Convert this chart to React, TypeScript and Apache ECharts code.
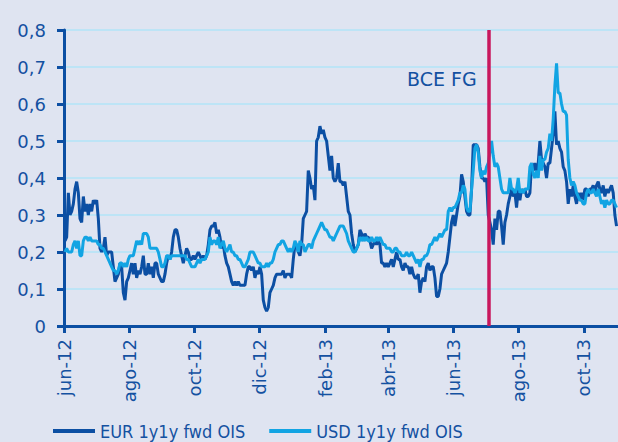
import { useEffect, useRef } from "react";
import * as echarts from "echarts";

// ---- Data ----
const START = Date.UTC(2012, 5, 1);
const DAY_MS = 86400000;
const dayOf = (y: number, m: number, d: number) => (Date.UTC(y, m, d) - START) / DAY_MS;

const TICK_LABELS = ["jun-12", "ago-12", "oct-12", "dic-12", "feb-13", "abr-13", "jun-13", "ago-13", "oct-13"];
const TICK_MONTHS: [number, number][] = [
  [2012, 5], [2012, 7], [2012, 9], [2012, 11], [2013, 1], [2013, 3], [2013, 5], [2013, 7], [2013, 9],
];
const EVENT_LABEL = "BCE FG";
const EVENT_DATE: [number, number, number] = [2013, 6, 4];
const END_DATE: [number, number, number] = [2013, 10, 2];

const FIRST_DAY = 0.94;
const STEP_DAYS = 1.561;

const Y_TICKS = [0, 0.1, 0.2, 0.3, 0.4, 0.5, 0.6, 0.7, 0.8];

const EUR_A = [
  0.23, 0.24, 0.36, 0.30, 0.31, 0.33, 0.37, 0.39, 0.36, 0.29,
  0.28, 0.35, 0.31, 0.33, 0.30, 0.33, 0.31, 0.34, 0.33, 0.34,
  0.29, 0.21, 0.20, 0.21, 0.24, 0.19, 0.20, 0.20, 0.20, 0.16,
  0.12, 0.13, 0.14, 0.17, 0.16, 0.09, 0.07, 0.12, 0.13, 0.15,
  0.17, 0.14, 0.17, 0.13, 0.15, 0.14, 0.16, 0.19, 0.14, 0.14,
  0.17, 0.14, 0.16, 0.13, 0.17, 0.17, 0.14, 0.13, 0.12, 0.12,
  0.14, 0.17, 0.19, 0.18, 0.20, 0.24, 0.26, 0.26, 0.24, 0.21,
  0.19, 0.17, 0.19, 0.21, 0.20, 0.18, 0.18, 0.19, 0.18, 0.19,
  0.20, 0.19, 0.18, 0.19, 0.18, 0.19, 0.22, 0.26, 0.27, 0.27,
  0.28, 0.25, 0.26, 0.24, 0.21, 0.22, 0.19, 0.17, 0.16, 0.14,
  0.12, 0.11, 0.12, 0.11, 0.12, 0.11, 0.11, 0.11, 0.11, 0.14,
  0.16, 0.16, 0.15, 0.16, 0.13, 0.15, 0.14, 0.16, 0.14, 0.07,
  0.05, 0.04, 0.05, 0.09, 0.10, 0.11, 0.13, 0.14, 0.14, 0.14,
  0.14, 0.15, 0.13, 0.14, 0.14, 0.14, 0.13, 0.18, 0.22, 0.22,
  0.20,
];
const EUR_B = [
  0.19, 0.22, 0.29, 0.30, 0.31, 0.42, 0.40, 0.37, 0.38, 0.34,
  0.50, 0.51, 0.54, 0.52, 0.53, 0.51, 0.50, 0.46, 0.42, 0.46,
  0.40, 0.39, 0.40, 0.44, 0.39, 0.39, 0.38, 0.39, 0.35, 0.31,
  0.30, 0.25, 0.22, 0.20, 0.21, 0.22, 0.26, 0.25, 0.23, 0.25,
  0.24, 0.24, 0.23, 0.21, 0.22, 0.23, 0.22, 0.23, 0.22, 0.17,
  0.17, 0.16, 0.17, 0.16, 0.17, 0.18, 0.16, 0.18, 0.20, 0.18,
  0.18, 0.16, 0.15, 0.17, 0.16, 0.16, 0.14, 0.16, 0.14, 0.13,
  0.13, 0.14, 0.09, 0.12, 0.13, 0.12, 0.16, 0.17, 0.15, 0.16,
  0.16, 0.13, 0.08, 0.08, 0.10, 0.14, 0.15, 0.16, 0.17, 0.20,
  0.24, 0.28, 0.30, 0.27, 0.30, 0.33, 0.35, 0.41, 0.39, 0.35,
  0.31, 0.30, 0.30, 0.37, 0.49, 0.49, 0.49, 0.48, 0.43, 0.40,
  0.40, 0.39, 0.40, 0.30, 0.28, 0.26, 0.22, 0.29, 0.26, 0.31,
  0.31, 0.27, 0.22, 0.28, 0.30, 0.33, 0.35, 0.37, 0.35, 0.36,
  0.32, 0.37, 0.34, 0.37, 0.36, 0.37, 0.35, 0.35, 0.36, 0.44,
  0.42, 0.44, 0.42, 0.44, 0.50, 0.45, 0.44, 0.43, 0.40, 0.44,
  0.44, 0.48, 0.52, 0.58, 0.49, 0.50, 0.48, 0.47, 0.43, 0.42,
  0.39, 0.33, 0.37, 0.35, 0.38, 0.35, 0.33, 0.36, 0.34, 0.36,
  0.34, 0.37, 0.37, 0.35, 0.37, 0.37, 0.38, 0.36, 0.38, 0.39,
  0.37, 0.36, 0.38, 0.35, 0.37, 0.36, 0.37, 0.38, 0.36, 0.30,
  0.27,
];
const USD_A = [
  0.20, 0.21, 0.20, 0.20, 0.20, 0.22, 0.23, 0.21, 0.23, 0.19,
  0.19, 0.23, 0.24, 0.24, 0.23, 0.24, 0.23, 0.23, 0.23, 0.23,
  0.22, 0.22, 0.21, 0.21, 0.20, 0.19, 0.18, 0.17, 0.16, 0.15,
  0.15, 0.14, 0.15, 0.17, 0.17, 0.16, 0.17, 0.16, 0.18, 0.19,
  0.19, 0.19, 0.21, 0.23, 0.22, 0.23, 0.22, 0.25, 0.25, 0.25,
  0.24, 0.21, 0.21, 0.21, 0.21, 0.21, 0.20, 0.18, 0.16, 0.16,
  0.17, 0.19, 0.19, 0.18, 0.19, 0.19, 0.19, 0.19, 0.19, 0.19,
  0.19, 0.19, 0.19, 0.18, 0.18, 0.17, 0.16, 0.16, 0.16, 0.17,
  0.18, 0.17, 0.18, 0.18, 0.18, 0.19, 0.20, 0.24, 0.22, 0.23,
  0.23, 0.22, 0.24, 0.21, 0.22, 0.23, 0.21, 0.20, 0.21, 0.22,
  0.20, 0.20, 0.19, 0.19, 0.18, 0.18, 0.17, 0.16, 0.16, 0.17,
  0.18, 0.20, 0.20, 0.20, 0.19, 0.18, 0.17, 0.17, 0.16, 0.16,
  0.16, 0.17, 0.16, 0.17, 0.17, 0.18, 0.20, 0.21, 0.22, 0.22,
  0.23, 0.23, 0.22, 0.21, 0.20, 0.21, 0.20, 0.21, 0.23, 0.22,
  0.20,
];
const USD_B = [
  0.23, 0.22, 0.22, 0.20, 0.21, 0.22, 0.22, 0.21, 0.23, 0.24,
  0.25, 0.26, 0.27, 0.28, 0.27, 0.26, 0.26, 0.25, 0.24, 0.24,
  0.23, 0.24, 0.25, 0.26, 0.27, 0.27, 0.27, 0.26, 0.25, 0.23,
  0.22, 0.21, 0.20, 0.20, 0.21, 0.22, 0.24, 0.23, 0.24, 0.23,
  0.24, 0.23, 0.23, 0.24, 0.23, 0.23, 0.24, 0.23, 0.24, 0.23,
  0.22, 0.22, 0.21, 0.21, 0.21, 0.20, 0.20, 0.21, 0.21, 0.20,
  0.20, 0.19, 0.19, 0.19, 0.20, 0.19, 0.19, 0.20, 0.19, 0.18,
  0.17, 0.18, 0.16, 0.18, 0.18, 0.19, 0.19, 0.20, 0.22, 0.22,
  0.23, 0.24, 0.23, 0.24, 0.25, 0.24, 0.25, 0.26, 0.26, 0.31,
  0.32, 0.31, 0.32, 0.32, 0.33, 0.34, 0.36, 0.36, 0.38, 0.37,
  0.32, 0.31, 0.31, 0.37, 0.42, 0.48, 0.49, 0.47, 0.42, 0.40,
  0.42, 0.41, 0.43, 0.44, 0.47, 0.50, 0.46, 0.43, 0.44, 0.43,
  0.40, 0.37, 0.36, 0.36, 0.36, 0.36, 0.40, 0.37, 0.37, 0.36,
  0.37, 0.40, 0.36, 0.37, 0.36, 0.37, 0.37, 0.37, 0.43, 0.44,
  0.41, 0.40, 0.42, 0.40, 0.46, 0.42, 0.45, 0.45, 0.47, 0.48,
  0.52, 0.50, 0.56, 0.65, 0.71, 0.63, 0.63, 0.60, 0.58, 0.58,
  0.57, 0.45, 0.40, 0.38, 0.39, 0.38, 0.36, 0.35, 0.34, 0.34,
  0.33, 0.33, 0.36, 0.37, 0.36, 0.36, 0.37, 0.36, 0.35, 0.37,
  0.35, 0.33, 0.34, 0.32, 0.34, 0.33, 0.33, 0.34, 0.34, 0.33,
  0.32,
];

const EUR = [...EUR_A, ...EUR_B];
const USD = [...USD_A, ...USD_B];

const SERIES_NAMES = ["EUR 1y1y fwd OIS", "USD 1y1y fwd OIS"];

// ---- Styles ----
const DARK = "#0c4fa3";
const LIGHT = "#12a4e3";
const RED = "#c8175d";
const TEXT = "#1451a1";
const BG = "#dfe4f1";
const GRID = "#bde4f6";
const FONT = "'DejaVu Sans', sans-serif";

export default function App() {
  const ref = useRef<HTMLDivElement>(null);

  useEffect(() => {
    document.body.style.margin = "0";
    if (!ref.current) return;
    const chart = echarts.init(ref.current, null, { renderer: "svg" });

    const tickDays = TICK_MONTHS.map(([y, m]) => dayOf(y, m, 1));
    const toPairs = (arr: number[]) => arr.map((v, i) => [FIRST_DAY + i * STEP_DAYS, v]);
    const eventDay = dayOf(...EVENT_DATE);
    const endDay = dayOf(...END_DATE);

    chart.setOption({
      animation: false,
      backgroundColor: BG,
      grid: { left: 64, right: 0, top: 30, bottom: 116, containLabel: false },
      legend: {
        left: 53,
        top: 421,
        itemWidth: 42,
        itemHeight: 4,
        itemGap: 24,
        icon: "rect",
        padding: 0,
        data: SERIES_NAMES,
        textStyle: {
          color: TEXT,
          fontSize: 18,
          lineHeight: 20,
          fontFamily: "'DejaVu Sans Condensed', 'DejaVu Sans', sans-serif",
        },
      },
      xAxis: {
        type: "value",
        min: 0,
        max: endDay,
        axisLine: { onZero: false, lineStyle: { color: DARK, width: 3 } },
        axisTick: { show: true, customValues: tickDays, length: 7, lineStyle: { color: DARK, width: 3 } },
        axisLabel: {
          customValues: tickDays,
          rotate: 90,
          margin: 13,
          color: TEXT,
          fontSize: 18,
          fontFamily: FONT,
          formatter: (v: number) => {
            const i = tickDays.findIndex((d) => Math.abs(d - v) < 0.01);
            return i >= 0 ? TICK_LABELS[i] : "";
          },
        },
        splitLine: { show: false },
      },
      yAxis: {
        type: "value",
        min: Y_TICKS[0],
        max: Y_TICKS[Y_TICKS.length - 1],
        interval: 0.1,
        axisLine: { show: true, lineStyle: { color: DARK, width: 3 } },
        axisTick: { show: true, length: 7, lineStyle: { color: DARK, width: 3 } },
        axisLabel: {
          margin: 18,
          color: TEXT,
          fontSize: 18,
          fontFamily: FONT,
          formatter: (v: number) => (Math.round(v * 10) / 10).toString().replace(".", ","),
        },
        splitLine: { show: true, lineStyle: { color: GRID, width: 2 } },
      },
      graphic: [
        {
          type: "text",
          x: 407,
          y: 79,
          style: {
            text: EVENT_LABEL,
            fill: TEXT,
            font: `19px ${FONT}`,
            verticalAlign: "middle",
            align: "left",
          },
        },
      ],
      series: [
        {
          name: SERIES_NAMES[0],
          type: "line",
          data: toPairs(EUR),
          showSymbol: false,
          symbol: "none",
          color: DARK,
          lineStyle: { color: DARK, width: 3 },
        },
        {
          name: SERIES_NAMES[1],
          type: "line",
          data: toPairs(USD),
          showSymbol: false,
          symbol: "none",
          color: LIGHT,
          lineStyle: { color: LIGHT, width: 3 },
          markLine: {
            silent: true,
            symbol: "none",
            label: { show: false },
            lineStyle: { color: RED, width: 3.5, type: "solid" },
            data: [{ xAxis: eventDay }],
          },
        },
      ],
    });

    return () => chart.dispose();
  }, []);

  return <div ref={ref} style={{ width: 618, height: 442 }} />;
}
